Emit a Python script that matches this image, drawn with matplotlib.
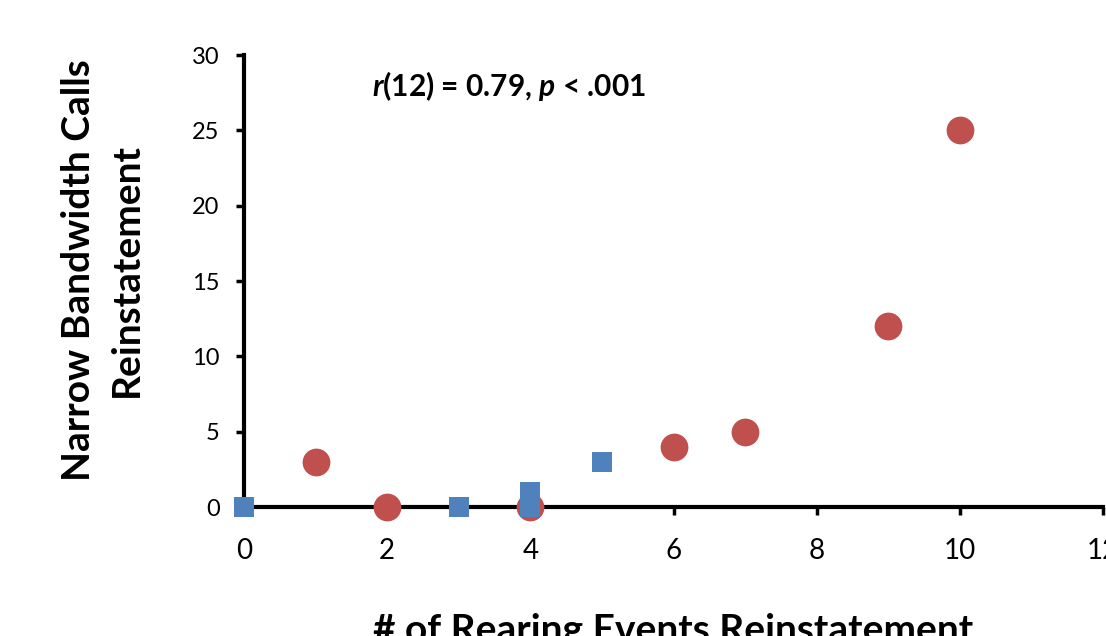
import matplotlib.pyplot as plt

plt.rcParams['font.family'] = ['Lato', 'DejaVu Sans']
plt.rcParams['mathtext.fontset'] = 'custom'
plt.rcParams['mathtext.it'] = 'Lato:italic:bold'

# two groups of animals
red_x = [1, 2, 4, 6, 7, 9, 10]
red_y = [3, 0, 0, 4, 5, 12, 25]
blue_x = [0, 3, 4, 4, 5]
blue_y = [0, 0, 0, 1, 3]

x_ticks = [0, 2, 4, 6, 8, 10, 12]
y_ticks = [0, 5, 10, 15, 20, 25, 30]

fig = plt.figure(figsize=(11.06, 6.36), dpi=100)
ax = fig.add_axes([244 / 1106, 1 - 507 / 636, (1103 - 244) / 1106, (507 - 55) / 636])

ax.scatter(red_x, red_y, s=20 ** 2, marker='o', color='#c0504d', zorder=3, clip_on=False, linewidths=0)
ax.scatter(blue_x, blue_y, s=14.5 ** 2, marker='s', color='#4f81bd', zorder=4, clip_on=False, linewidths=0)

ax.set_xlim(0, 12)
ax.set_ylim(0, 30)
ax.set_xticks(x_ticks)
ax.set_yticks(y_ticks)
ax.tick_params(axis='both', width=2.5, length=5.5, direction='out')
ax.tick_params(axis='x', labelsize=20, pad=17)
ax.tick_params(axis='y', labelsize=17, pad=12)

for s in ['top', 'right']:
    ax.spines[s].set_visible(False)
for s in ['left', 'bottom']:
    ax.spines[s].set_linewidth(3)

ax.set_xlabel('# of Rearing Events Reinstatement', fontsize=28, fontweight='bold', labelpad=35)
ax.set_ylabel('Narrow Bandwidth Calls\nReinstatement', fontsize=28, fontweight='bold',
              linespacing=1.45)
ax.yaxis.set_label_coords(-0.116, 0.525)

ax.text(0.149, 0.932, r'$\it{r}$' + '(12) = 0.79, ' + r'$\it{p}$' + ' < .001',
        transform=ax.transAxes, fontsize=21.5, fontweight='bold', va='center', ha='left')

fig.savefig('out.png', dpi=100)
